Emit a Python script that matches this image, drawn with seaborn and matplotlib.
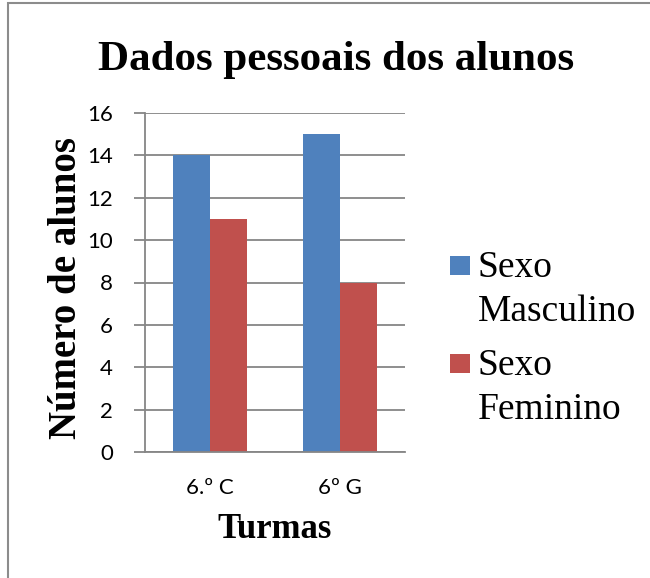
import matplotlib
matplotlib.use("Agg")
import matplotlib.pyplot as plt
import seaborn as sns
import pandas as pd
from matplotlib.patches import Rectangle

# ---- data ----
turmas = ["6.º C", "6º G"]
series = ["Sexo Masculino", "Sexo Feminino"]
masculino = [14, 15]
feminino = [11, 8]
yticks = [0, 2, 4, 6, 8, 10, 12, 14, 16]
colors = ["#4F81BD", "#C0504D"]

df = pd.DataFrame({
    "Turma": turmas * 2,
    "Sexo": [series[0]] * len(turmas) + [series[1]] * len(turmas),
    "Alunos": masculino + feminino,
})

sns.set_theme(style="white")
W, H = 650, 578
fig = plt.figure(figsize=(6.5, 5.78), dpi=100)
ax = fig.add_axes([145 / W, 1 - 452 / H, 260 / W, 339 / H])

sns.barplot(data=df, x="Turma", y="Alunos", hue="Sexo", order=turmas,
            hue_order=series, palette=colors, width=0.57, linewidth=0,
            saturation=1, ax=ax, legend=False)

ax.set_xlim(-0.5, 1.5)
ax.set_ylim(0, 16)
ax.set_yticks(yticks)
ax.yaxis.grid(True, color="#868686", linewidth=1.3)
ax.set_axisbelow(True)
for s in ["top", "right"]:
    ax.spines[s].set_visible(False)
for s in ["left", "bottom"]:
    ax.spines[s].set_color("#868686")
    ax.spines[s].set_linewidth(1.3)
ax.tick_params(axis="y", length=8, width=1.3, color="#868686", direction="out",
               pad=15, left=True)
ax.tick_params(axis="x", length=0, pad=19)
for lbl in ax.get_yticklabels() + ax.get_xticklabels():
    lbl.set_fontfamily("Lato")
    lbl.set_fontsize(16)
    lbl.set_color("black")
ax.set_xlabel("")
ax.set_ylabel("")

serif = "Liberation Serif"
fig.text(336 / W, 1 - 70 / H, "Dados pessoais dos alunos", family=serif,
         weight="bold", size=31, ha="center", va="baseline", color="black")
fig.text(275 / W, 1 - 530 / H, "Turmas", family=serif, weight="bold",
         size=25, ha="center", va="center", color="black")
fig.text(67 / W, 1 - 288 / H, "Número de alunos", family=serif,
         weight="bold", size=28, ha="center", va="center", rotation=90,
         color="black")

# legend (manual, square aligned with first line)
leg_y = [256, 354]
for name, col, y0 in zip(series, colors, leg_y):
    fig.patches.append(Rectangle((450 / W, 1 - (y0 + 19) / H), 20 / W, 19 / H,
                                 transform=fig.transFigure, facecolor=col,
                                 edgecolor="none"))
    first, second = name.split(" ", 1)
    fig.text(478 / W, 1 - (y0 + 21) / H, first, family=serif, size=27,
             ha="left", va="baseline", color="black")
    fig.text(478 / W, 1 - (y0 + 65) / H, second, family=serif, size=27,
             ha="left", va="baseline", color="black")

# chart frame
fig.patches.append(Rectangle((8 / W, -0.1), 2, 1 - 3 / H + 0.1,
                             transform=fig.transFigure, fill=False,
                             edgecolor="#8c8c8c", linewidth=1.5))

fig.savefig("out.png", dpi=100)
